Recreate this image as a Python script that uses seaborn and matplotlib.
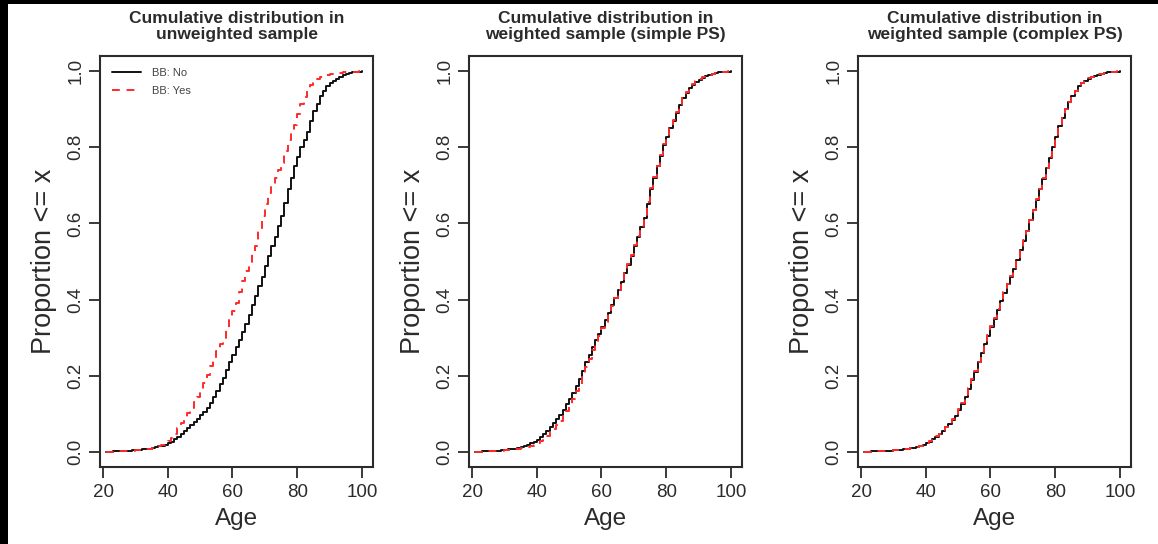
import numpy as np
import pandas as pd
import matplotlib
matplotlib.use("Agg")
import matplotlib.pyplot as plt
from matplotlib.patches import Rectangle
from matplotlib.lines import Line2D
import seaborn as sns

# ---------------- data ----------------
ages = list(range(21, 101))

unweighted_no = [
    .000, .000, .001, .001, .002, .002, .003, .003, .004, .004,
    .005, .006, .007, .008, .010, .012, .014, .016, .019, .023,
    .027, .033, .040, .047, .055, .062, .070, .078, .087, .096,
    .105, .116, .128, .144, .160, .178, .195, .215, .235, .255,
    .275, .295, .315, .337, .360, .385, .410, .435, .460, .488,
    .515, .540, .565, .592, .620, .655, .690, .720, .750, .775,
    .800, .820, .840, .868, .895, .915, .935, .948, .960, .968,
    .975, .980, .985, .989, .992, .995, .997, .998, .999, 1.000]
unweighted_yes = [
    .000, .000, .000, .001, .001, .002, .002, .003, .003, .004,
    .004, .005, .006, .007, .009, .011, .014, .018, .022, .028,
    .035, .048, .062, .076, .090, .102, .115, .130, .145, .162,
    .180, .202, .225, .245, .265, .282, .300, .325, .350, .370,
    .390, .420, .450, .475, .500, .520, .540, .580, .620, .650,
    .680, .700, .720, .740, .760, .790, .820, .840, .860, .888,
    .915, .933, .950, .963, .975, .980, .985, .988, .990, .992,
    .993, .995, .996, .997, .998, .998, .999, .999, 1.000, 1.000]

simple_no = [
    .000, .000, .001, .001, .002, .002, .003, .003, .004, .005,
    .006, .007, .008, .010, .012, .015, .018, .022, .026, .032,
    .038, .046, .055, .065, .075, .086, .097, .111, .125, .140,
    .155, .172, .190, .212, .235, .255, .275, .293, .310, .328,
    .345, .365, .385, .405, .425, .447, .470, .492, .515, .540,
    .565, .590, .615, .652, .690, .720, .750, .778, .805, .828,
    .850, .870, .890, .910, .930, .943, .955, .964, .972, .978,
    .983, .987, .990, .993, .995, .997, .998, .999, .999, 1.000]
simple_yes = [
    .000, .000, .000, .001, .001, .002, .002, .003, .003, .004,
    .004, .005, .006, .007, .009, .011, .013, .016, .019, .023,
    .028, .035, .042, .051, .060, .071, .082, .095, .108, .124,
    .140, .159, .178, .200, .222, .245, .268, .287, .305, .324,
    .342, .362, .382, .404, .425, .448, .470, .494, .518, .543,
    .568, .594, .620, .656, .692, .722, .752, .780, .808, .830,
    .852, .872, .892, .912, .932, .945, .957, .966, .974, .979,
    .984, .988, .991, .993, .995, .997, .998, .999, 1.000, 1.000]

complex_no = [
    .000, .000, .001, .001, .001, .002, .002, .003, .003, .004,
    .004, .005, .006, .007, .009, .011, .013, .015, .018, .022,
    .027, .033, .040, .047, .055, .064, .073, .084, .095, .110,
    .125, .145, .165, .188, .210, .235, .260, .283, .305, .328,
    .350, .373, .395, .418, .440, .460, .480, .505, .530, .555,
    .580, .608, .635, .662, .690, .718, .745, .773, .800, .828,
    .855, .878, .900, .918, .935, .948, .960, .968, .975, .980,
    .985, .988, .991, .993, .995, .997, .998, .999, .999, 1.000]
complex_yes = [
    .000, .000, .000, .001, .001, .002, .002, .003, .003, .004,
    .004, .005, .006, .007, .009, .011, .013, .016, .019, .023,
    .028, .034, .041, .048, .056, .065, .074, .085, .097, .112,
    .127, .147, .167, .190, .212, .237, .262, .285, .307, .330,
    .352, .374, .396, .419, .441, .461, .482, .507, .531, .556,
    .581, .609, .636, .663, .691, .719, .746, .774, .801, .829,
    .856, .879, .901, .919, .936, .949, .961, .969, .976, .981,
    .986, .989, .992, .994, .996, .997, .998, .999, 1.000, 1.000]

titles = ["Cumulative distribution in\nunweighted sample",
          "Cumulative distribution in\nweighted sample (simple PS)",
          "Cumulative distribution in\nweighted sample (complex PS)"]
series_labels = ["BB: No", "BB: Yes"]
x_ticks = [20, 40, 60, 80, 100]
y_ticks = [0.0, 0.2, 0.4, 0.6, 0.8, 1.0]
y_ticklabels = ["0.0", "0.2", "0.4", "0.6", "0.8", "1.0"]
x_label = "Age"
y_label = "Proportion <= x"

panels = [(unweighted_no, unweighted_yes),
          (simple_no, simple_yes),
          (complex_no, complex_yes)]

# ---------------- style ----------------
sns.set_style("ticks")
plt.rcParams["font.family"] = ["Liberation Sans", "DejaVu Sans"]

W, H = 1158, 544
fig = plt.figure(figsize=(W / 100, H / 100), dpi=100)
fig.patch.set_facecolor("white")

frame_col = "#2b2b2b"
text_col = "#2b2b2b"
black_line = "#111111"
red_line = "#ff2a2a"
dash = (0, (4, 3.5))

lefts_px = [100, 469, 858]
width_px = 273
top_px, bottom_px = 56, 467

for i, (no_vals, yes_vals) in enumerate(panels):
    ax = fig.add_axes([lefts_px[i] / W, (H - bottom_px) / H,
                       width_px / W, (bottom_px - top_px) / H])
    df_no = pd.DataFrame({"age": ages, "p": no_vals})
    df_yes = pd.DataFrame({"age": ages, "p": yes_vals})
    sns.lineplot(data=df_no, x="age", y="p", ax=ax, color=black_line,
                 linewidth=1.4, drawstyle="steps-post", estimator=None,
                 legend=False)
    sns.lineplot(data=df_yes, x="age", y="p", ax=ax, color=red_line,
                 linewidth=1.4, drawstyle="steps-post", estimator=None,
                 linestyle=dash, legend=False)

    ax.set_xlim(19.07, 103.41)
    ax.set_ylim(-0.04, 1.04)
    ax.set_xticks(x_ticks)
    ax.set_yticks(y_ticks)
    ax.set_yticklabels(y_ticklabels, rotation=90, va="center")
    ax.tick_params(axis="both", length=8, width=1.3, color=frame_col,
                   labelsize=13.5, labelcolor=text_col, direction="out")
    ax.tick_params(axis="x", pad=4)
    ax.tick_params(axis="y", pad=3)
    for s in ax.spines.values():
        s.set_visible(True)
        s.set_color(frame_col)
        s.set_linewidth(1.5)
    ax.set_xlabel(x_label, fontsize=17.5, color=text_col, labelpad=5)
    ax.set_ylabel(y_label, fontsize=19.5, color=text_col, labelpad=8)
    ax.set_title(titles[i], fontsize=12.5, fontweight="bold", color=text_col,
                 pad=12, linespacing=1.1)
    ax.grid(False)

    if i == 0:
        handles = [Line2D([], [], color=black_line, lw=1.4),
                   Line2D([], [], color=red_line, lw=1.4, linestyle=dash)]
        leg = ax.legend(handles, series_labels, loc="upper left", frameon=False,
                        fontsize=8, handlelength=2.6, handletextpad=1.0,
                        labelspacing=0.7, borderaxespad=0.7,
                        bbox_to_anchor=(0.0, 1.0))
        for t in leg.get_texts():
            t.set_color("#444444")

# black border strips seen in the reference
fig.patches.append(Rectangle((0, 0), 8 / W, 1, transform=fig.transFigure,
                             facecolor="black", edgecolor="none", zorder=10))
fig.patches.append(Rectangle((0, 1 - 4 / H), 1, 4 / H, transform=fig.transFigure,
                             facecolor="black", edgecolor="none", zorder=10))

fig.savefig("out.png", dpi=100)
